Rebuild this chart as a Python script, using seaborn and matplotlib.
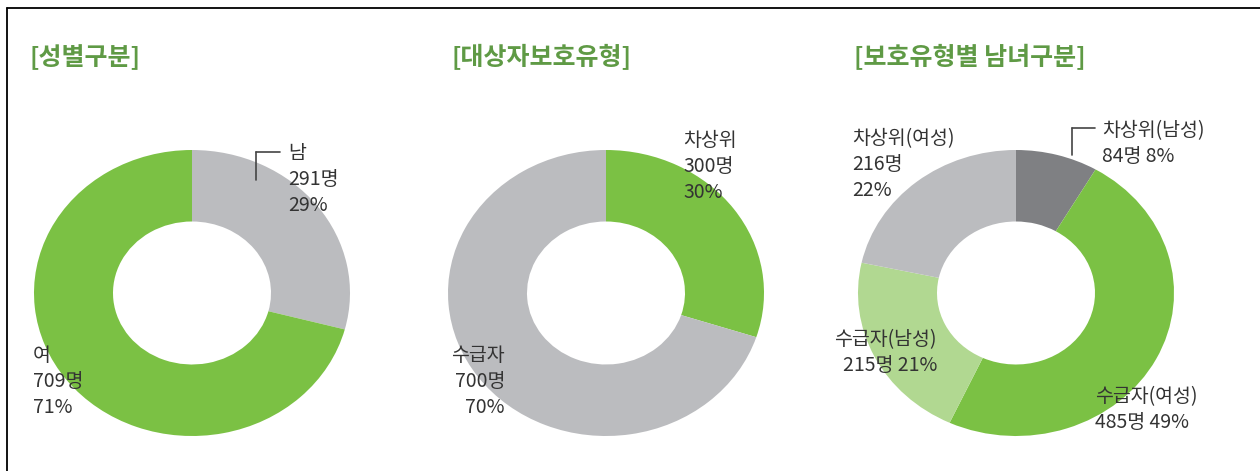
import matplotlib
matplotlib.use('Agg')
import matplotlib.pyplot as plt
import seaborn as sns
from matplotlib.lines import Line2D

sns.set_theme(style='white')
plt.rcParams['font.family'] = ['Noto Sans CJK KR', 'DejaVu Sans']

# Datos
titles = ['[성별구분]', '[대상자보호유형]', '[보호유형별 남녀구분]']

sex_labels = ['남', '여']
sex_counts = [291, 709]
sex_pcts = [29, 71]

type_labels = ['차상위', '수급자']
type_counts = [300, 700]
type_pcts = [30, 70]

mix_labels = ['차상위(남성)', '수급자(여성)', '수급자(남성)', '차상위(여성)']
mix_counts = [84, 485, 215, 216]
mix_pcts = [8, 49, 21, 22]

GREEN = '#7bc144'
GRAY = '#bbbcbf'
DARK = '#7f8083'
LIGHT_GREEN = '#b1d891'
TITLE_GREEN = '#5f9a45'
TEXT = '#333333'

W, H = 1260, 471
fig = plt.figure(figsize=(W / 100, H / 100), dpi=100)
fig.patch.set_facecolor('white')


def fx(x):
    return x / W


def fy(y):
    return 1 - y / H


def draw_label(x, y, lines, ha='left', step=26):
    for i, line in enumerate(lines):
        fig.text(fx(x), fy(y + i * step), line, ha=ha, va='top',
                 fontsize=14, color=TEXT)


charts = [
    (sex_labels, sex_counts, sex_pcts, [GRAY, GREEN], 192, 30),
    (type_labels, type_counts, type_pcts, [GREEN, GRAY], 606, 452),
    (mix_labels, mix_counts, mix_pcts, [DARK, GREEN, LIGHT_GREEN, GRAY], 1016, 854),
]
cy, rx, ry = 293, 158, 143

for (labels, counts, pcts, colors, cx, tx), title in zip(charts, titles):
    ax = fig.add_axes([fx(cx - rx), fy(cy + ry), 2 * rx / W, 2 * ry / H])
    ax.pie(counts, colors=colors, startangle=90, counterclock=False,
           wedgeprops=dict(width=0.5, edgecolor='none'))
    ax.set_aspect('auto')
    ax.set_xlim(-1, 1)
    ax.set_ylim(-1, 1)
    ax.axis('off')
    fig.text(fx(tx), fy(57), title, ha='left', va='center', fontsize=18,
             fontweight='bold', color=TITLE_GREEN)

# Etiquetas grafico 1
draw_label(288, 143, [sex_labels[0], f'{sex_counts[0]}명', f'{sex_pcts[0]}%'])
draw_label(33, 345, [sex_labels[1], f'{sex_counts[1]}명', f'{sex_pcts[1]}%'])

# Etiquetas grafico 2
draw_label(683, 130, [type_labels[0], f'{type_counts[0]}명', f'{type_pcts[0]}%'])
draw_label(505, 345, [type_labels[1], f'{type_counts[1]}명', f'{type_pcts[1]}%'], ha='right')

# Etiquetas grafico 3
draw_label(1102, 120, [mix_labels[0], f'{mix_counts[0]}명 {mix_pcts[0]}%'])
draw_label(1095, 386, [mix_labels[1], f'{mix_counts[1]}명 {mix_pcts[1]}%'])
draw_label(937, 329, [mix_labels[2], f'{mix_counts[2]}명 {mix_pcts[2]}%'], ha='right')
draw_label(852, 128, [mix_labels[3], f'{mix_counts[3]}명', f'{mix_pcts[3]}%'])

# Lineas guia
for (x0, y0, x1, y1) in [(256, 152, 280, 152), (256, 152, 256, 180),
                         (1072, 128, 1095, 128), (1072, 128, 1072, 155)]:
    fig.add_artist(Line2D([fx(x0), fx(x1)], [fy(y0), fy(y1)],
                          color='#444444', lw=1.2))

# Marco
fig.add_artist(Line2D([fx(7), fx(W)], [fy(8), fy(8)], color='black', lw=1.3))
fig.add_artist(Line2D([fx(7), fx(7)], [fy(8), fy(H)], color='black', lw=1.3))

plt.savefig('out.png', dpi=100)
plt.close()
